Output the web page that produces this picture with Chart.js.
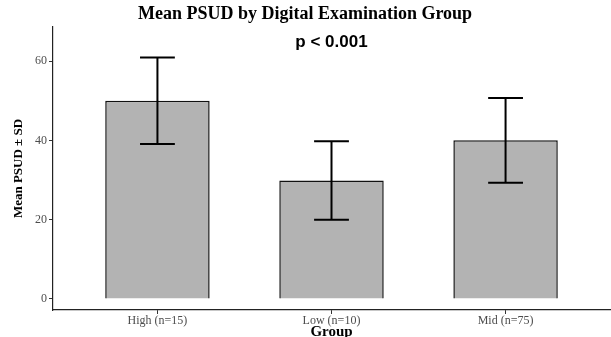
<!DOCTYPE html>
<html>
<head>
<meta charset="utf-8">
<script src="https://cdn.jsdelivr.net/npm/chart.js@4"></script>
<style>
html,body{margin:0;padding:0;background:#fff;}
#wrap{width:611px;height:337px;}
</style>
</head>
<body>
<div id="wrap"><canvas id="c" width="611" height="337"></canvas></div>
<script>
const groups = ['High (n=15)', 'Low (n=10)', 'Mid (n=75)'];
const means = [50.0, 29.9, 40.0];
const sds = [10.9, 9.9, 10.7];
const yTicks = [0, 20, 40, 60];
const pText = 'p < 0.001';
const pPos = {x: 2, y: 64.8};

const serif = "'Liberation Serif', 'Times New Roman', serif";
const sans = "'Liberation Sans', Arial, sans-serif";

const errorBars = {
  id: 'errorBars',
  afterDatasetsDraw(chart) {
    const {ctx, scales: {x, y}} = chart;
    ctx.save();
    ctx.strokeStyle = '#000';
    ctx.lineWidth = 2;
    means.forEach((m, i) => {
      const cx = x.getPixelForValue(i + 1);
      const l = x.getPixelForValue(i + 1 - 0.1);
      const r = x.getPixelForValue(i + 1 + 0.1);
      const t = y.getPixelForValue(m + sds[i]);
      const b = y.getPixelForValue(m - sds[i]);
      ctx.beginPath();
      ctx.moveTo(cx, t); ctx.lineTo(cx, b);
      ctx.moveTo(l, t); ctx.lineTo(r, t);
      ctx.moveTo(l, b); ctx.lineTo(r, b);
      ctx.stroke();
    });
    ctx.fillStyle = '#000';
    ctx.font = 'bold 17px ' + sans;
    ctx.textAlign = 'center';
    ctx.textBaseline = 'middle';
    ctx.fillText(pText, x.getPixelForValue(pPos.x), y.getPixelForValue(pPos.y));
    ctx.restore();
  }
};

new Chart(document.getElementById('c'), {
  type: 'bar',
  data: {
    datasets: [{
      data: groups.map((g, i) => ({x: i + 1, y: means[i]})),
      backgroundColor: '#b3b3b3',
      borderColor: '#111',
      borderWidth: 1.5,
      barPercentage: 0.6,
      categoryPercentage: 1
    }]
  },
  options: {
    responsive: false,
    animation: false,
    devicePixelRatio: 1,
    layout: {padding: {left: 0, right: 1, top: 0, bottom: 0}},
    plugins: {
      legend: {display: false},
      tooltip: {enabled: false},
      title: {
        display: true,
        text: 'Mean PSUD by Digital Examination Group',
        color: '#000',
        font: {family: serif, size: 18, weight: 'bold', lineHeight: 1.2},
        padding: {top: 4, bottom: 1.4}
      }
    },
    scales: {
      x: {
        type: 'linear',
        offset: false,
        min: 0.4,
        max: 3.6,
        afterBuildTicks: s => { s.ticks = groups.map((g, i) => ({value: i + 1})); },
        afterFit: s => { s.height = 27; },
        ticks: {
          callback: (v, i) => groups[i],
          color: '#4d4d4d',
          font: {family: serif, size: 12},
          padding: 0,
          maxRotation: 0,
          autoSkip: false
        },
        grid: {display: true, offset: false, drawOnChartArea: false, drawTicks: true, tickLength: 4, color: '#333', lineWidth: 1},
        border: {display: true, color: '#222', width: 1.2},
        title: {
          display: true,
          text: 'Group',
          color: '#000',
          font: {family: serif, size: 15, weight: 'bold', lineHeight: 1},
          padding: {top: 0, bottom: -3}
        }
      },
      y: {
        type: 'linear',
        min: -2.8,
        max: 68.6,
        afterBuildTicks: s => { s.ticks = yTicks.map(v => ({value: v})); },
        afterFit: s => { s.width = 53; },
        ticks: {
          color: '#4d4d4d',
          font: {family: serif, size: 12},
          padding: 2
        },
        grid: {display: true, drawOnChartArea: false, drawTicks: true, tickLength: 4, color: '#333', lineWidth: 1},
        border: {display: true, color: '#222', width: 1.2},
        title: {
          display: true,
          text: 'Mean PSUD ± SD',
          color: '#000',
          font: {family: serif, size: 13, weight: 'bold', lineHeight: 1.2},
          padding: {top: 11, bottom: 0}
        }
      }
    }
  },
  plugins: [errorBars]
});
</script>
</body>
</html>
